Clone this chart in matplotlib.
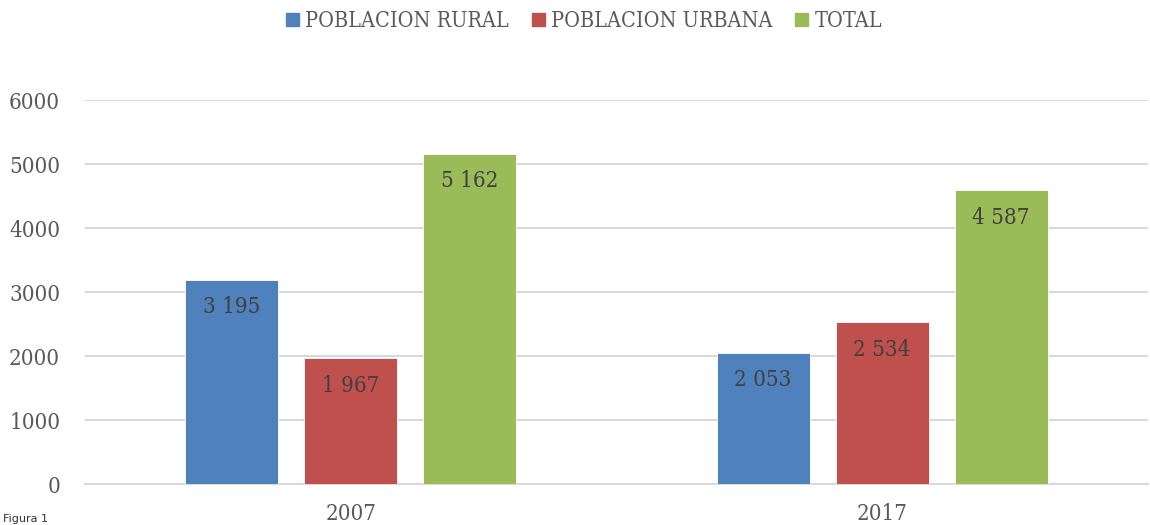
import numpy as np
import matplotlib; matplotlib.use("Agg"); import matplotlib.pyplot as plt
from matplotlib.patches import Patch

plt.rcParams.update({"font.family": ["DejaVu Serif", "Liberation Serif"], "font.stretch": "condensed",
                     "font.size": 16})

years = ["2007", "2017"]
series = ["POBLACION RURAL", "POBLACION URBANA", "TOTAL"]
rural = [3195, 2053]
urbana = [1967, 2534]
total = [5162, 4587]
values = [rural, urbana, total]
COL = ["#4f81bd", "#c0504d", "#9bbb59"]
TXT = "#595959"

fig = plt.figure(figsize=(11.5, 5.25), dpi=100)
ax = fig.add_axes([0.074, 0.078, 0.924, 0.7314])
x = np.arange(len(years))
w, step = 0.175, 0.224
for i, (name, vals) in enumerate(zip(series, values)):
    xs = x + (i - 1) * step
    ax.bar(xs, vals, width=w, color=COL[i], edgecolor="white", linewidth=0.6, zorder=3)
    for xi, v in zip(xs, vals):
        lab = f"{v:,}".replace(",", " ")
        ax.annotate(lab, (xi, v), xytext=(0, -20), textcoords="offset points",
                    ha="center", va="center", color="#404040", zorder=4)

ax.set_xlim(-0.5, 1.5); ax.set_ylim(0, 6000)
ax.set_yticks(range(0, 6001, 1000))
ax.set_xticks(x, years)
ax.grid(axis="y", color="#d9d9d9", lw=1.5, zorder=0)
for s in ["top", "right", "left"]:
    ax.spines[s].set_visible(False)
ax.spines["bottom"].set_color("#d9d9d9"); ax.spines["bottom"].set_linewidth(1.5)
ax.tick_params(length=0, colors=TXT)
ax.tick_params(axis="y", pad=18)
ax.tick_params(axis="x", pad=14)

handles = [Patch(color=c, label=s) for c, s in zip(COL, series)]
fig.legend(handles=handles, loc="center", bbox_to_anchor=(0.508, 0.96), ncol=3, frameon=False,
           handlelength=0.6, handleheight=0.6, handletextpad=0.3, columnspacing=1.05,
           labelcolor=TXT, fontsize=15.5)
fig.text(0.003, 0.002, "Figura 1", family="DejaVu Sans", stretch="normal", fontsize=8,
         color="#333333", va="bottom")

fig.savefig("out.png")
